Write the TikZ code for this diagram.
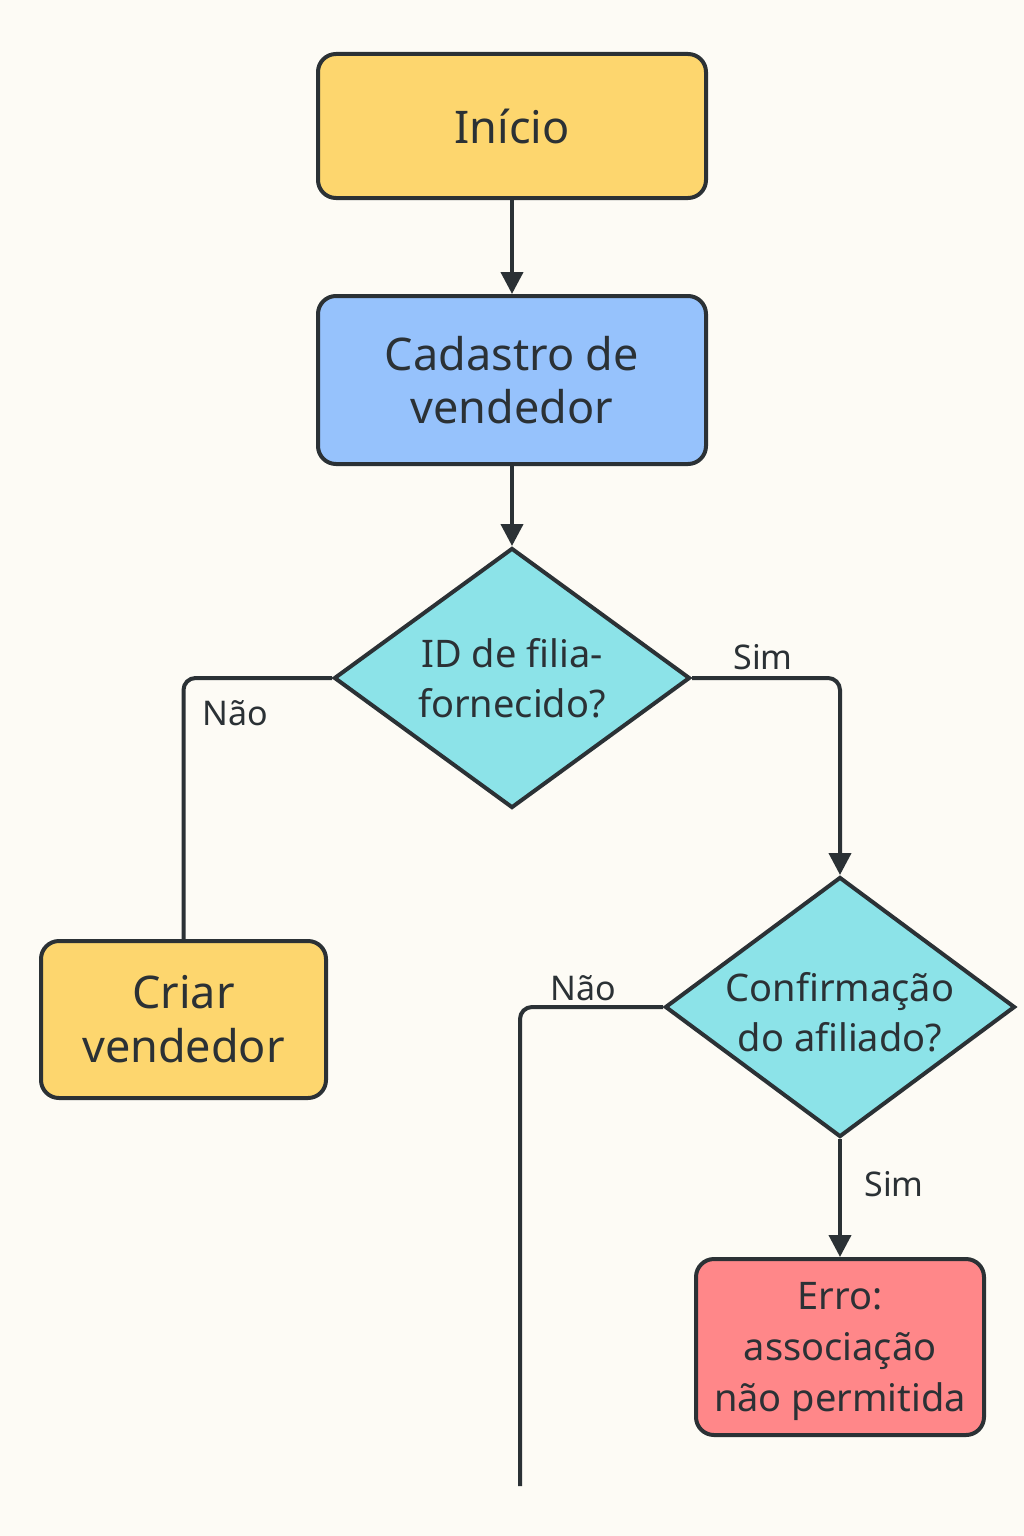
\documentclass[tikz,border=0pt]{standalone}
\usepackage{fontspec}
\setmainfont{Noto Sans}
\usetikzlibrary{shapes.geometric,arrows.meta}
\definecolor{bg}{HTML}{FDFBF5}
\definecolor{ink}{HTML}{2B3135}
\definecolor{yel}{HTML}{FDD66E}
\definecolor{blu}{HTML}{96C2FC}
\definecolor{cya}{HTML}{8CE3E8}
\definecolor{red}{HTML}{FF8789}
\tikzset{
  box/.style={draw=ink, line width=4pt, rounded corners=18pt, align=center, text=ink, inner sep=0pt},
  dia/.style={draw=ink, line width=4pt, diamond, aspect=1.37, inner sep=0pt, align=center, text=ink},
  txt/.style={text=ink, align=center, inner sep=0pt},
  conn/.style={draw=ink, line width=4pt, rounded corners=12pt},
  arr/.style={conn, -{Triangle[width=22pt,length=22pt]}},
  lbl/.style={text=ink, font=\fontsize{34}{40}\selectfont, inner sep=0pt}
}
\begin{document}
\begin{tikzpicture}[x=1pt,y=-1pt]
\fill[bg] (0,0) rectangle (1024,1536);
\useasboundingbox (0,0) rectangle (1024,1536);

\node[box, fill=yel, minimum width=388pt, minimum height=144pt, font=\fontsize{45}{54}\selectfont] (start) at (512,126) {Início};
\node[box, fill=blu, minimum width=388pt, minimum height=168pt, font=\fontsize{45}{53}\selectfont] (cad) at (512,380) {Cadastro de\\vendedor};
\node[dia, fill=cya, minimum width=356pt, minimum height=260pt, font=\fontsize{38}{50}\selectfont] (d1) at (512,678) {ID de filia-\\fornecido?};
\node[box, fill=yel, minimum width=285pt, minimum height=157pt, font=\fontsize{45}{54}\selectfont] (criar) at (183.5,1019.5) {Criar\\vendedor};
\node[dia, fill=cya, minimum width=350pt, minimum height=260pt] (d2) at (840,1007) {};
\node[txt, font=\fontsize{38}{50}\selectfont] (d2t) at (840,1012) {Confirmação\\do afiliado?};
\node[box, fill=red, minimum width=288pt, minimum height=176pt] (erro) at (840,1347) {};
\node[txt, font=\fontsize{38}{51}\selectfont] (errot) at (840,1351) {Erro:\\associação\\não permitida};

\coordinate (endp) at (520,1486);

\draw[arr] (start.south) -- (cad.north);
\draw[arr] (cad.south) -- (d1.north);
\draw[conn] (d1.west) -| (criar.north);
\draw[arr] (d1.east) -| (d2.north);
\draw[arr] (d2.south) -- (erro.north);
\draw[conn] (d2.west) -| (endp);

\node[lbl] (l1) at (235,713) {Não};
\node[lbl] (l2) at (763,657) {Sim};
\node[lbl] (l3) at (583,988) {Não};
\node[lbl] (l4) at (894,1184) {Sim};
\end{tikzpicture}
\end{document}
